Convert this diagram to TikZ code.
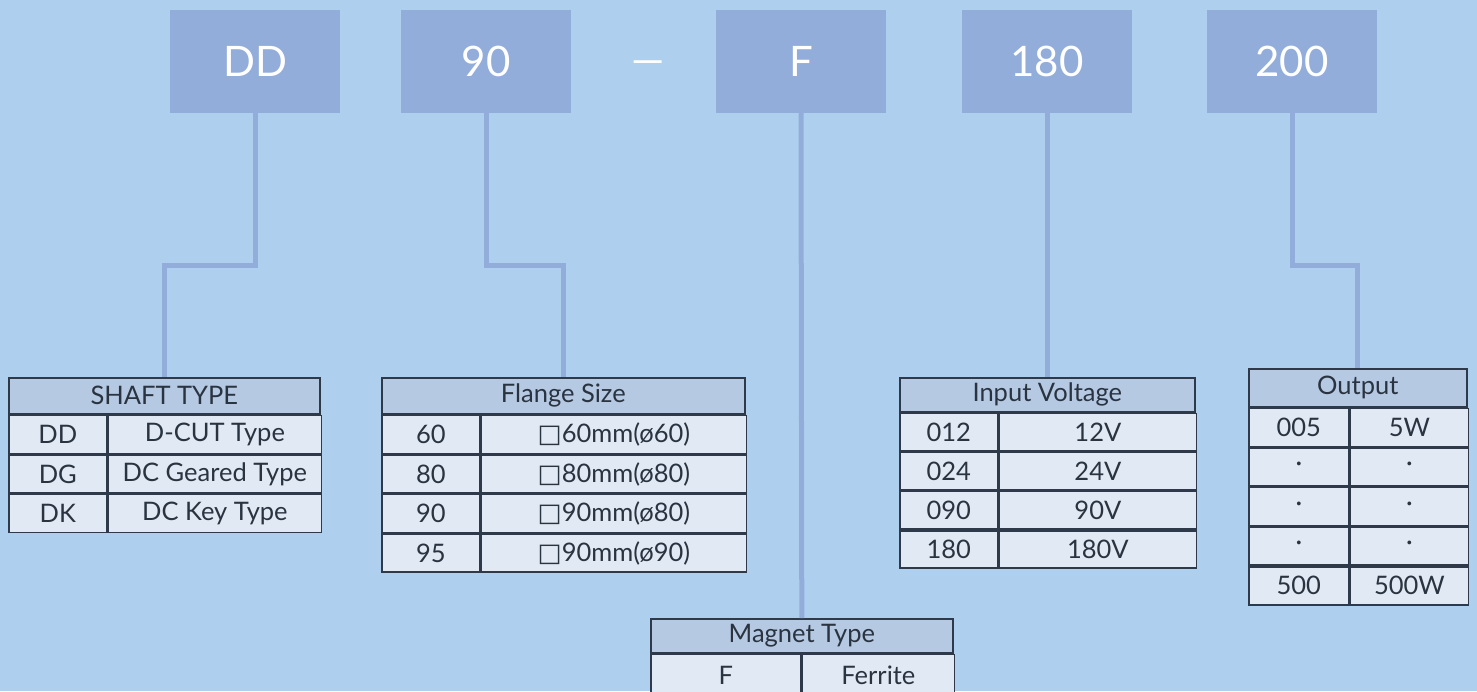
\documentclass[tikz,border=0pt]{standalone}
\usepackage{fontspec}
\setmainfont{Lato}
\newfontfamily\symfont{DejaVu Sans}
\usepackage{xcolor}
\usetikzlibrary{positioning}
\definecolor{sky}{HTML}{AED0EE}
\definecolor{tagblue}{HTML}{93ADDB}
\definecolor{headfill}{HTML}{B6C9E3}
\definecolor{cellfill}{HTML}{E1E9F4}
\definecolor{rule}{HTML}{2E3A4A}
\definecolor{ink}{HTML}{2A3441}
\newcommand{\sq}{{\symfont\char"25A1}}
\tikzset{
  tag/.style={fill=tagblue,minimum width=170pt,minimum height=103pt,inner sep=0pt,
              text=white,font=\fontsize{42}{46}\selectfont},
  link/.style={draw=tagblue,line width=5pt},
  head/.style={draw=rule,fill=headfill,line width=1.6pt,inner sep=0pt,anchor=north west,
               minimum width=#1,minimum height=36pt,text=ink,font=\fontsize{25.5}{28}\selectfont},
  cell/.style={draw=rule,fill=cellfill,line width=1.6pt,inner sep=0pt,anchor=north west,
               minimum width=#1,minimum height=38pt,text=ink,font=\fontsize{25.5}{28}\selectfont},
}

\begin{document}
\begin{tikzpicture}[x=1pt,y=-1pt]
  \fill[sky] (0,0) rectangle (1477,691);
  \clip (0,0) rectangle (1477,691);

  % code boxes
  \node[tag] (dd) at (255,61) {DD};
  \node[tag] (size) at (486,61) {90};
  \node[text=white,font=\fontsize{42}{46}\selectfont] (dash) at (648,68) {—};
  \node[tag] (mag) at (801,61) {F};
  \node[tag] (volt) at (1047,61) {180};
  \node[tag] (watt) at (1292,61) {200};

  % shaft type
  \node[head=311pt] (shaft) at (8,377) {SHAFT TYPE};
  \node[cell=98pt] (s1a) at (shaft.south west) {DD};
  \node[cell=213pt] (s1b) at (s1a.north east) {D-CUT Type};
  \node[cell=98pt] (s2a) at (s1a.south west) {DG};
  \node[cell=213pt] (s2b) at (s2a.north east) {DC Geared Type};
  \node[cell=98pt] (s3a) at (s2a.south west) {DK};
  \node[cell=213pt] (s3b) at (s3a.north east) {DC Key Type};

  % flange size
  \node[head=363pt] (flange) at (381,377) {Flange Size};
  \node[cell=98pt] (f1a) at (flange.south west) {60};
  \node[cell=265pt] (f1b) at (f1a.north east) {\sq60mm(ø60)};
  \node[cell=98pt] (f2a) at (f1a.south west) {80};
  \node[cell=265pt] (f2b) at (f2a.north east) {\sq80mm(ø80)};
  \node[cell=98pt] (f3a) at (f2a.south west) {90};
  \node[cell=265pt] (f3b) at (f3a.north east) {\sq90mm(ø80)};
  \node[cell=98pt] (f4a) at (f3a.south west) {95};
  \node[cell=265pt] (f4b) at (f4a.north east) {\sq90mm(ø90)};

  % input voltage
  \node[head=295pt,minimum height=34pt] (input) at (899,377) {Input Voltage};
  \node[cell=98pt,minimum height=37.5pt] (v1a) at (input.south west) {012};
  \node[cell=197pt,minimum height=37.5pt] (v1b) at (v1a.north east) {12V};
  \node[cell=98pt,minimum height=37.5pt] (v2a) at (v1a.south west) {024};
  \node[cell=197pt,minimum height=37.5pt] (v2b) at (v2a.north east) {24V};
  \node[cell=98pt,minimum height=37.5pt] (v3a) at (v2a.south west) {090};
  \node[cell=197pt,minimum height=37.5pt] (v3b) at (v3a.north east) {90V};
  \node[cell=98pt,minimum height=37.5pt] (v4a) at (v3a.south west) {180};
  \node[cell=197pt,minimum height=37.5pt] (v4b) at (v4a.north east) {180V};

  % output
  \node[head=218pt,minimum height=38pt] (output) at (1248,368) {Output};
  \node[cell=100pt] (o1a) at (output.south west) {005};
  \node[cell=118pt] (o1b) at (o1a.north east) {5W};
  \node[cell=100pt] (o2a) at (o1a.south west) {·};
  \node[cell=118pt] (o2b) at (o2a.north east) {·};
  \node[cell=100pt] (o3a) at (o2a.south west) {·};
  \node[cell=118pt] (o3b) at (o3a.north east) {·};
  \node[cell=100pt] (o4a) at (o3a.south west) {·};
  \node[cell=118pt] (o4b) at (o4a.north east) {·};
  \node[cell=100pt] (o5a) at (o4a.south west) {500};
  \node[cell=118pt] (o5b) at (o5a.north east) {500W};

  % magnet type
  \node[head=302pt,minimum height=34pt] (magnet) at (650,618) {Magnet Type};
  \node[cell=150pt,minimum height=42pt] (m1a) at (magnet.south west) {F};
  \node[cell=152pt,minimum height=42pt] (m1b) at (m1a.north east) {Ferrite};

  % connectors
  \draw[link] (dd.south) -- ++(0,153) -| (shaft.north);
  \draw[link] (size.south) -- ++(0,153) -| (flange.north);
  \draw[link] (mag.south) -- (magnet.north);
  \draw[link] (volt.south) -- (volt.south |- input.north);
  \draw[link] (watt.south) -- ++(0,153) -| (output.north);
\end{tikzpicture}
\end{document}
